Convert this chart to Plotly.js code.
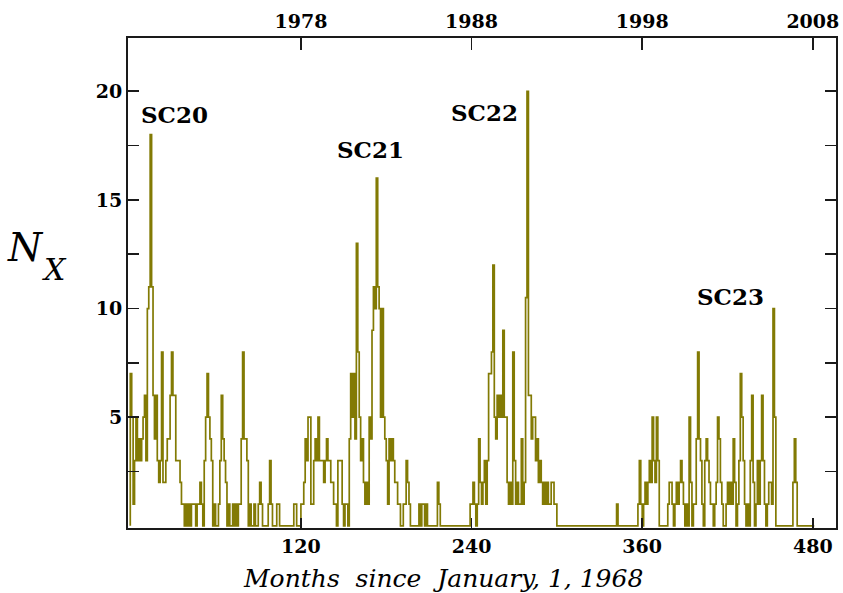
<!DOCTYPE html>
<html><head><meta charset="utf-8">
<script src="https://cdn.plot.ly/plotly-3.0.1.min.js"></script>
<style>html,body{margin:0;padding:0;background:#fff}#chart{width:843px;height:593px}</style>
</head><body><div id="chart"></div>
<script>
// Monthly number of X-class flares, month 0 = January 1968
const nx = [
7,5,1,3,5,3,4,3,4,5,
6,3,10,11,18,11,6,4,6,3,
2,3,8,2,2,3,4,4,6,8,
6,6,3,3,3,2,1,1,0,1,
0,1,0,1,1,1,0,1,1,2,
1,0,3,5,7,5,4,3,0,1,
0,0,1,3,6,4,3,2,0,1,
0,0,1,0,1,0,1,1,4,8,
4,4,3,0,1,0,0,1,0,0,
1,2,1,0,0,0,0,1,3,1,
0,0,0,1,1,0,0,0,0,0,
0,0,0,0,0,1,1,0,0,0,
1,1,2,4,3,5,5,1,1,3,
4,3,5,3,3,3,2,3,4,3,
3,2,2,1,1,0,3,3,3,1,
0,1,1,0,4,7,5,7,4,13,
8,5,3,4,2,1,2,1,5,4,
9,11,10,16,11,10,5,10,5,4,
3,1,4,3,4,3,2,2,1,1,
0,0,1,1,3,2,1,0,0,0,
0,0,0,1,0,1,1,0,1,0,
0,0,0,0,0,0,2,1,0,0,
0,0,0,0,0,0,0,0,0,0,
0,0,0,0,0,0,0,0,0,1,
1,2,1,0,1,4,2,1,2,3,
1,3,7,7,8,12,5,4,6,5,
6,5,9,5,5,2,1,2,1,8,
3,1,2,1,1,4,1,2,10.5,20,
6,6,4,5,5,3,4,2,3,2,
1,2,1,2,1,1,2,2,1,1,
0,0,0,0,0,0,0,0,0,0,
0,0,0,0,0,0,0,0,0,0,
0,0,0,0,0,0,0,0,0,0,
0,0,0,0,0,0,0,0,0,0,
0,0,1,0,0,0,0,0,0,0,
0,0,0,0,0,0,0,1,3,1,
0,1,2,1,2,3,2,5,3,2,
5,3,0,0,0,0,0,0,1,2,
2,1,0,1,2,1,2,3,2,1,
0,1,0,5,2,0,1,1,4,8,
4,3,1,0,3,4,3,2,1,1,
0,1,2,5,4,2,1,0,0,1,
2,1,2,1,4,2,0,1,3,7,
5,3,1,0,1,0,3,6,2,0,
1,3,1,3,6,3,1,0,1,2,
2,1,10,5,0,0,0,0,0,0,
0,0,0,0,0,0,2,4,2,0,
0,0,0,0,0,0,0,0,0,0,0
];
const monthTicks = [120, 240, 360, 480];
const yearLabels = ['1978', '1988', '1998', '2008'];
const yMajorTicks = [5, 10, 15, 20];
const yMinorTicks = [2.5, 7.5, 12.5, 17.5];
const cycleLabels = ['SC20', 'SC21', 'SC22', 'SC23'];
const cycleX = [31.4, 168.6, 248.8, 422.4];
const cycleY = [18.93, 17.33, 19.03, 10.54];

const xs = [0], ys = [0];
for (let i = 0; i < nx.length; i++) { xs.push(i); ys.push(nx[i]); }
xs.push(nx.length); ys.push(0);

const olive = 'rgb(130,122,4)';
const axisCol = '#1a1a1a';
const serif = "'DejaVu Serif', 'Liberation Serif', serif";
const XR = [-1.6, 496.3];

const traces = [
  {x: xs, y: ys, type: 'scatter', mode: 'lines',
   line: {shape: 'hv', color: olive, width: 1.7}, hoverinfo: 'skip', showlegend: false},
  {x: [XR[0]], y: [null], xaxis: 'x2', type: 'scatter', mode: 'lines', hoverinfo: 'skip', showlegend: false}
];

const annotations = cycleLabels.map((t, i) => ({
  text: t, x: cycleX[i], y: cycleY[i], xref: 'x', yref: 'y', showarrow: false,
  font: {family: serif, size: 23, color: '#000', weight: 'bold'}
}));
// y-axis title N_X (large italic N with subscript X)
annotations.push({
  text: 'N', xref: 'paper', yref: 'paper', x: (25 - 128) / 708, y: (528 - 247) / 490,
  xanchor: 'center', yanchor: 'middle', showarrow: false,
  font: {family: serif, size: 39, color: '#000', style: 'italic'}
});
annotations.push({
  text: 'X', xref: 'paper', yref: 'paper', x: (54 - 128) / 708, y: (528 - 269) / 490,
  xanchor: 'center', yanchor: 'middle', showarrow: false,
  font: {family: serif, size: 30, color: '#000', style: 'italic'}
});
// x-axis title
annotations.push({
  text: 'Months\u00A0\u00A0since\u00A0\u00A0January,\u00A01,\u00A01968',
  xref: 'paper', yref: 'paper', x: (443 - 128) / 708, y: (528 - 578) / 490,
  xanchor: 'center', yanchor: 'middle', showarrow: false,
  font: {family: serif, size: 25, color: '#000', style: 'italic'}
});

const tickFont = {family: serif, size: 19, color: '#000', weight: 'bold'};

const layout = {
  width: 843, height: 593,
  margin: {l: 128, r: 7, t: 38, b: 65},
  paper_bgcolor: '#fff', plot_bgcolor: '#fff',
  showlegend: false,
  xaxis: {
    range: XR, tickvals: monthTicks, ticktext: monthTicks.map(String),
    ticks: 'inside', ticklen: 10, tickwidth: 1.5, tickcolor: axisCol,
    showline: true, linecolor: axisCol, linewidth: 2, mirror: false,
    showgrid: false, zeroline: false, tickfont: tickFont
  },
  xaxis2: {
    overlaying: 'x', side: 'top', anchor: 'y', range: XR,
    tickvals: monthTicks, ticktext: yearLabels,
    ticks: 'inside', ticklen: 12, tickwidth: 1.5, tickcolor: axisCol,
    showline: true, linecolor: axisCol, linewidth: 2,
    showgrid: false, zeroline: false, tickfont: tickFont
  },
  yaxis: {
    range: [-0.1, 22.45], tickmode: 'array', tickvals: yMajorTicks, ticktext: yMajorTicks.map(String),
    ticks: 'inside', ticklen: 11, tickwidth: 1.5, tickcolor: axisCol,
    minor: {tickmode: 'array', tickvals: yMinorTicks, ticks: 'inside', ticklen: 11, tickwidth: 1.5, tickcolor: axisCol, showgrid: false},
    showline: true, linecolor: axisCol, linewidth: 2, mirror: 'ticks',
    showgrid: false, zeroline: false, tickfont: tickFont
  },
  annotations: annotations
};

Plotly.newPlot('chart', traces, layout, {displayModeBar: false, staticPlot: true});
</script>
</body></html>
